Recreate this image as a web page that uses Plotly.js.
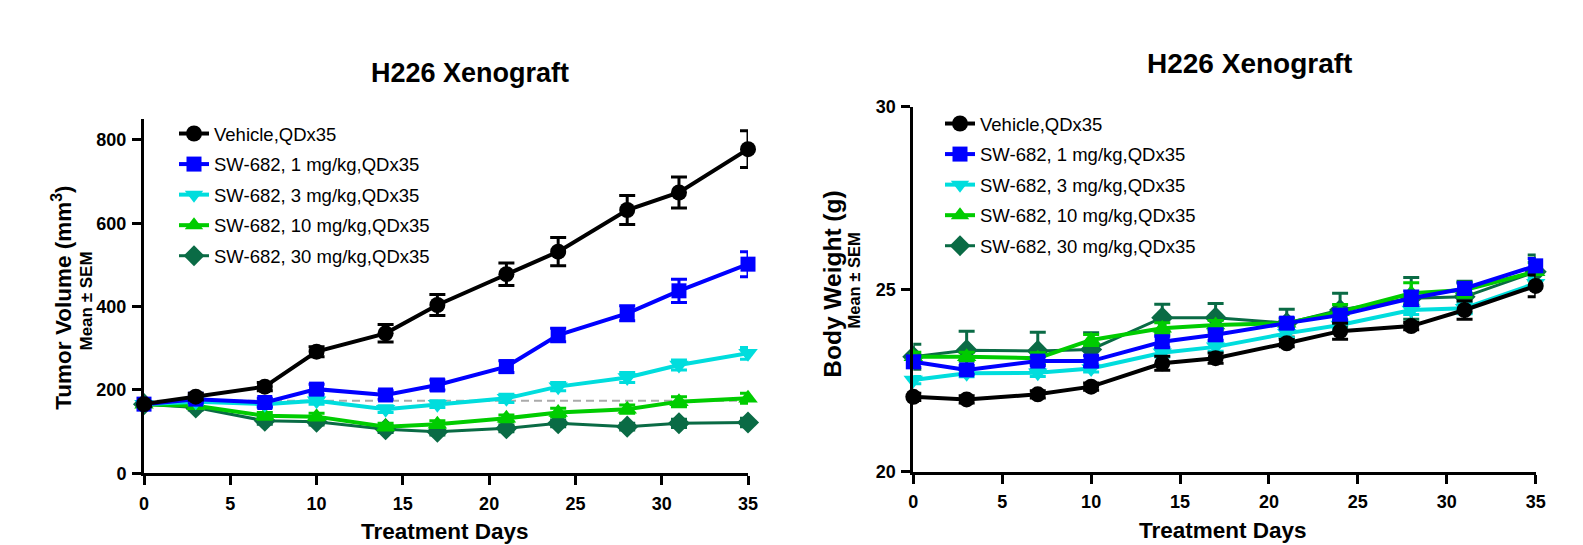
<!DOCTYPE html>
<html><head><meta charset="utf-8">
<script src="https://cdn.plot.ly/plotly-3.0.1.min.js"></script>
<style>html,body{margin:0;padding:0;background:#fff}</style>
</head><body>
<div id="chart" style="width:1583px;height:545px"></div>
<script>
// ---- data ----
const days = [0, 3, 7, 10, 14, 17, 21, 24, 28, 31, 35];
const seriesNames = ["Vehicle,QDx35", "SW-682, 1 mg/kg,QDx35", "SW-682, 3 mg/kg,QDx35", "SW-682, 10 mg/kg,QDx35", "SW-682, 30 mg/kg,QDx35"];

// Tumor volume (mm3), mean and SEM
const tvVehicle = [166, 184, 208, 292, 336, 404, 478, 532, 632, 674, 778];
const tvVehicleErr = [5, 8, 10, 12, 21, 25, 27, 34, 35, 37, 44];
const tv1mg = [166, 178, 170, 202, 188, 212, 256, 332, 384, 438, 502];
const tv1mgErr = [6, 8, 10, 12, 10, 12, 14, 16, 18, 28, 30];
const tv3mg = [166, 172, 166, 174, 154, 166, 180, 208, 230, 260, 288];
const tv3mgErr = [5, 6, 8, 8, 8, 8, 10, 10, 12, 12, 14];
const tv10mg = [166, 162, 138, 136, 112, 118, 132, 146, 154, 172, 180];
const tv10mgErr = [5, 6, 8, 8, 8, 8, 8, 10, 10, 12, 12];
const tv30mg = [166, 158, 126, 124, 106, 100, 108, 120, 112, 120, 122];
const tv30mgErr = [5, 6, 8, 8, 8, 8, 8, 8, 8, 10, 10];
const refLineDays = [0, 36];
const refLineVol = [174, 174];

// Body weight (g), mean and SEM
const bwVehicle = [22.05, 21.98, 22.12, 22.33, 22.97, 23.11, 23.52, 23.85, 23.99, 24.43, 25.09];
const bwVehicleErr = [0.1, 0.1, 0.1, 0.1, 0.19, 0.14, 0.1, 0.22, 0.1, 0.25, 0.3];
const bw1mg = [23.01, 22.79, 23.03, 23.03, 23.56, 23.75, 24.07, 24.29, 24.75, 25.02, 25.64];
const bw1mgErr = [0.15, 0.12, 0.12, 0.15, 0.15, 0.15, 0.15, 0.15, 0.2, 0.15, 0.2];
const bw3mg = [22.51, 22.70, 22.71, 22.83, 23.26, 23.42, 23.79, 24.02, 24.43, 24.48, 25.16];
const bw3mgErr = [0.1, 0.1, 0.1, 0.1, 0.12, 0.12, 0.12, 0.12, 0.12, 0.15, 0.15];
const bw10mg = [23.15, 23.15, 23.11, 23.61, 23.93, 24.02, 24.07, 24.38, 24.89, 24.98, 25.48];
const bw10mgErr = [0.12, 0.12, 0.15, 0.15, 0.15, 0.12, 0.12, 0.2, 0.29, 0.2, 0.25];
const bw30mg = [23.15, 23.33, 23.31, 23.35, 24.22, 24.22, 24.07, 24.43, 24.75, 24.79, 25.48];
const bw30mgErr = [0.34, 0.52, 0.51, 0.46, 0.37, 0.39, 0.38, 0.46, 0.57, 0.43, 0.46];

const xTicks = [0, 5, 10, 15, 20, 25, 30, 35];
const tvTicks = [0, 200, 400, 600, 800];
const bwTicks = [20, 25, 30];

// ---- styles ----
const FONT = "Arial, 'Liberation Sans', Helvetica, sans-serif";
const colors = ["#000000", "#0000FF", "#00DDDD", "#00CC00", "#0A6B45"];
const symbols = ["circle", "square", "triangle-down", "triangle-up", "diamond"];
const msizes = [16, 15, 17, 17, 17];
const lwidths = [4, 4, 4, 4, 3];

const tvSeries = [[tvVehicle, tvVehicleErr], [tv1mg, tv1mgErr], [tv3mg, tv3mgErr], [tv10mg, tv10mgErr], [tv30mg, tv30mgErr]];
const bwSeries = [[bwVehicle, bwVehicleErr], [bw1mg, bw1mgErr], [bw3mg, bw3mgErr], [bw10mg, bw10mgErr], [bw30mg, bw30mgErr]];

const W = 1583, H = 545;
const px = v => v / W, py = v => 1 - v / H;

const traces = [];
traces.push({
  x: refLineDays, y: refLineVol, xaxis: 'x', yaxis: 'y', mode: 'lines',
  line: {color: '#AAAAAA', width: 2, dash: '8px,5px'}, showlegend: false, hoverinfo: 'skip', cliponaxis: false
});
function addSeries(series, xa, ya, leg) {
  for (let i = series.length - 1; i >= 0; i--) {
    traces.push({
      x: days, y: series[i][0], xaxis: xa, yaxis: ya, name: seriesNames[i], legend: leg,
      legendgroup: leg + '_' + i, legendrank: i + 1, mode: 'lines+markers', cliponaxis: false,
      line: {color: colors[i], width: lwidths[i]},
      marker: {color: colors[i], symbol: symbols[i], size: msizes[i], line: {width: 0}},
      error_y: {type: 'data', array: series[i][1], visible: true, color: colors[i], thickness: 3, width: 8}
    });
  }
}
addSeries(tvSeries, 'x', 'y', 'legend');
addSeries(bwSeries, 'x2', 'y2', 'legend2');

const axCommon = {
  showline: true, linecolor: '#000', linewidth: 3, showgrid: false, zeroline: false,
  ticks: 'outside', ticklen: 9, tickwidth: 3, tickcolor: '#000',
  tickfont: {family: FONT, size: 18, color: '#000', weight: 'bold'}, fixedrange: true
};

const tvTop = 473.3 - 850 * (333.3 / 800);
const legFont = {family: FONT, size: 18.5, color: '#000'};
const layout = {
  width: W, height: H, margin: {l: 0, r: 0, t: 0, b: 0},
  paper_bgcolor: '#fff', plot_bgcolor: 'rgba(0,0,0,0)', showlegend: true,
  font: {family: FONT, color: '#000'},
  xaxis: Object.assign({}, axCommon, {domain: [px(144), px(748)], range: [0, 35], tickvals: xTicks, anchor: 'y', ticklabelstandoff: 3}),
  yaxis: Object.assign({}, axCommon, {domain: [py(473.3), py(tvTop)], range: [0, 850], tickvals: tvTicks, anchor: 'x', ticklabelstandoff: 2}),
  xaxis2: Object.assign({}, axCommon, {domain: [px(913.3), px(1535.7)], range: [0, 35], tickvals: xTicks, anchor: 'y2', ticklabelstandoff: 3}),
  yaxis2: Object.assign({}, axCommon, {domain: [py(471.7), py(106.7)], range: [20, 30], tickvals: bwTicks, anchor: 'x2', ticklabelstandoff: 2}),
  legend: {x: px(174), y: py(115), xanchor: 'left', yanchor: 'top', bgcolor: 'rgba(0,0,0,0)',
    font: legFont, traceorder: 'grouped', tracegroupgap: 3.5},
  legend2: {x: px(940), y: py(105), xanchor: 'left', yanchor: 'top', bgcolor: 'rgba(0,0,0,0)',
    font: legFont, traceorder: 'grouped', tracegroupgap: 3.5},
  annotations: [
    {text: '<b>H226 Xenograft</b>', x: px(469.5), y: py(73.3), xref: 'paper', yref: 'paper', showarrow: false, xanchor: 'center', yanchor: 'middle', font: {family: FONT, size: 27}},
    {text: '<b>H226 Xenograft</b>', x: px(1249), y: py(63.3), xref: 'paper', yref: 'paper', showarrow: false, xanchor: 'center', yanchor: 'middle', font: {family: FONT, size: 28}},
    {text: '<b>Treatment Days</b>', x: px(445), y: py(531), xref: 'paper', yref: 'paper', showarrow: false, xanchor: 'center', yanchor: 'middle', font: {family: FONT, size: 22.5}},
    {text: '<b>Treatment Days</b>', x: px(1223), y: py(530), xref: 'paper', yref: 'paper', showarrow: false, xanchor: 'center', yanchor: 'middle', font: {family: FONT, size: 22.5}},
    {text: '<b>Tumor Volume (mm<sup>3</sup>)</b>', x: px(61.7), y: py(298), xref: 'paper', yref: 'paper', showarrow: false, xanchor: 'center', yanchor: 'middle', textangle: -90, font: {family: FONT, size: 22.5}},
    {text: '<b>Mean ± SEM</b>', x: px(85.5), y: py(301), xref: 'paper', yref: 'paper', showarrow: false, xanchor: 'center', yanchor: 'middle', textangle: -90, font: {family: FONT, size: 17}},
    {text: '<b>Body Weight (g)</b>', x: px(831.7), y: py(284), xref: 'paper', yref: 'paper', showarrow: false, xanchor: 'center', yanchor: 'middle', textangle: -90, font: {family: FONT, size: 24.5}},
    {text: '<b>Mean ± SEM</b>', x: px(853.5), y: py(280), xref: 'paper', yref: 'paper', showarrow: false, xanchor: 'center', yanchor: 'middle', textangle: -90, font: {family: FONT, size: 16.5}}
  ]
};

Plotly.newPlot('chart', traces, layout, {displayModeBar: false, staticPlot: true});
</script>
</body></html>
